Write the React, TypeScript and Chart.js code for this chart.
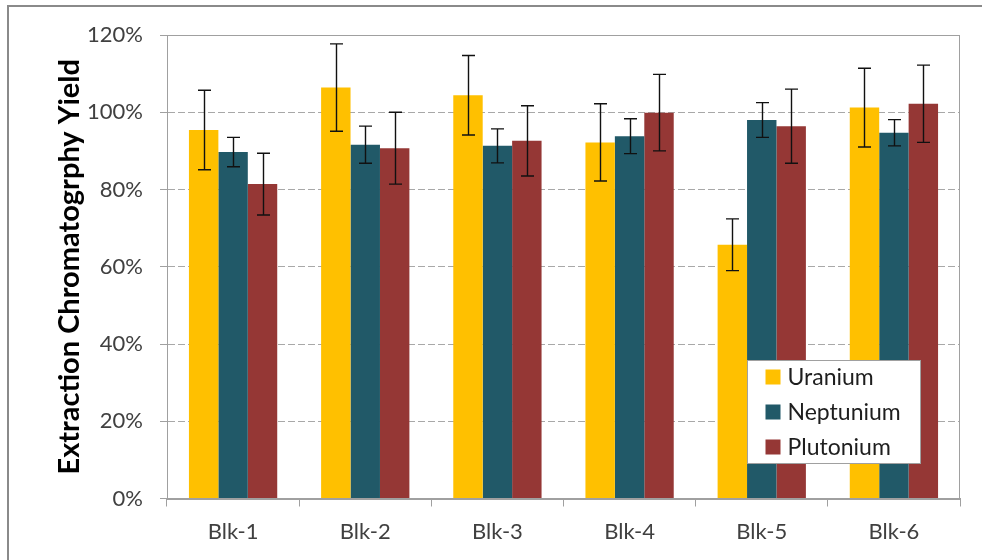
import React, { useEffect, useRef } from "react";
import { Chart, registerables } from "chart.js";

Chart.register(...registerables);

// ---- data ----
const categories = ["Blk-1", "Blk-2", "Blk-3", "Blk-4", "Blk-5", "Blk-6"];
const seriesNames = ["Uranium", "Neptunium", "Plutonium"];
const uranium = [95.4, 106.4, 104.4, 92.2, 65.7, 101.2];
const uraniumErr = [10.3, 11.3, 10.3, 10.0, 6.7, 10.2];
const neptunium = [89.7, 91.6, 91.3, 93.8, 98.0, 94.7];
const neptuniumErr = [3.8, 4.8, 4.4, 4.5, 4.5, 3.4];
const plutonium = [81.4, 90.7, 92.6, 99.9, 96.4, 102.2];
const plutoniumErr = [8.0, 9.3, 9.1, 9.9, 9.6, 10.0];
const yTicks = [0, 20, 40, 60, 80, 100, 120];
const yTitle = "Extraction Chromatogrphy Yield";

const colors = ["#FFC000", "#215968", "#953735"];
const FONT = "Lato, 'Open Sans', sans-serif";

const framePlugin = {
  id: "outerFrame",
  beforeDraw(chart: any) {
    const { ctx, width, height } = chart;
    ctx.save();
    ctx.fillStyle = "#ffffff";
    ctx.fillRect(0, 0, width, height);
    ctx.strokeStyle = "#8a8a8a";
    ctx.lineWidth = 2;
    ctx.beginPath();
    ctx.moveTo(8, height + 5);
    ctx.lineTo(8, 6);
    ctx.lineTo(width + 5, 6);
    ctx.stroke();
    ctx.restore();
  },
};

const plotBorderPlugin = {
  id: "plotBorder",
  beforeDatasetsDraw(chart: any) {
    const { ctx, chartArea } = chart;
    ctx.save();
    ctx.strokeStyle = "#A0A0A0";
    ctx.lineWidth = 1;
    ctx.setLineDash([]);
    ctx.strokeRect(
      Math.round(chartArea.left) + 0.5,
      Math.round(chartArea.top) + 0.5,
      Math.round(chartArea.right - chartArea.left) - 1,
      Math.round(chartArea.bottom - chartArea.top)
    );
    ctx.restore();
  },
};

const errorBarPlugin = {
  id: "errorBars",
  afterDatasetsDraw(chart: any) {
    const { ctx } = chart;
    const yScale = chart.scales.y;
    ctx.save();
    ctx.strokeStyle = "#111111";
    ctx.lineWidth = 1.4;
    chart.data.datasets.forEach((ds: any, i: number) => {
      const meta = chart.getDatasetMeta(i);
      meta.data.forEach((el: any, j: number) => {
        const v = ds.data[j];
        const e = ds.errors[j];
        const x = Math.round(el.x) + 0.5;
        const yT = yScale.getPixelForValue(v + e);
        const yB = yScale.getPixelForValue(v - e);
        const cap = 6.5;
        ctx.beginPath();
        ctx.moveTo(x, yT);
        ctx.lineTo(x, yB);
        ctx.moveTo(x - cap, yT);
        ctx.lineTo(x + cap, yT);
        ctx.moveTo(x - cap, yB);
        ctx.lineTo(x + cap, yB);
        ctx.stroke();
      });
    });
    ctx.restore();
  },
};

const legendBoxPlugin = {
  id: "legendBox",
  afterDraw(chart: any) {
    const { ctx, chartArea } = chart;
    const w = 173;
    const h = 103;
    const right = chartArea.right - 40;
    const bottom = chartArea.bottom - 35.5;
    const left = Math.round(right - w) + 0.5;
    const top = Math.round(bottom - h) + 0.5;
    ctx.save();
    ctx.fillStyle = "#ffffff";
    ctx.fillRect(left, top, w, h);
    ctx.strokeStyle = "#A0A0A0";
    ctx.lineWidth = 1;
    ctx.strokeRect(left, top, w, h);
    ctx.font = `23px ${FONT}`;
    ctx.textBaseline = "middle";
    ctx.textAlign = "left";
    chart.data.datasets.forEach((ds: any, i: number) => {
      const cy = top + 16.5 + i * 35;
      ctx.fillStyle = ds.backgroundColor;
      ctx.fillRect(left + 18, cy - 7.5, 15, 15);
      ctx.fillStyle = "#1e1e1e";
      ctx.fillText(ds.label, left + 40, cy + 1);
    });
    ctx.restore();
  },
};

export default function App() {
  const canvasRef = useRef<HTMLCanvasElement | null>(null);

  useEffect(() => {
    if (!canvasRef.current) return;
    const values = [uranium, neptunium, plutonium];
    const errors = [uraniumErr, neptuniumErr, plutoniumErr];
    const chart = new Chart(canvasRef.current, {
      type: "bar",
      data: {
        labels: categories,
        datasets: seriesNames.map((name, i) => ({
          label: name,
          data: values[i],
          errors: errors[i],
          backgroundColor: colors[i],
          borderWidth: 0,
          categoryPercentage: 0.668,
          barPercentage: 1.0,
        })) as any,
      },
      options: {
        responsive: false,
        animation: false,
        layout: { padding: { left: 0, top: 35, right: 22, bottom: 0 } },
        plugins: {
          legend: { display: false },
          tooltip: { enabled: false },
        },
        scales: {
          x: {
            grid: {
              display: true,
              offset: true,
              drawOnChartArea: false,
              drawTicks: true,
              tickLength: 8,
              color: "#A0A0A0",
              tickColor: "#A0A0A0",
            },
            border: { display: true, color: "#A0A0A0", width: 1 },
            ticks: {
              font: { family: FONT, size: 22 },
              color: "#404040",
              padding: 12,
            },
            afterFit: (s: any) => {
              s.height = 61.5;
            },
          },
          y: {
            min: 0,
            max: 120,
            afterBuildTicks: (s: any) => {
              s.ticks = yTicks.map((v) => ({ value: v }));
            },
            grid: {
              color: "#A8A8A8",
              drawTicks: true,
              tickLength: 7,
              tickColor: "#A0A0A0",
              tickBorderDash: [],
            },
            border: { display: true, color: "#A0A0A0", width: 1, dash: [7, 3] },
            ticks: {
              font: { family: FONT, size: 22 },
              color: "#404040",
              padding: 17,
              callback: (v: any) => `${v}%`,
            },
            title: {
              display: true,
              text: yTitle,
              color: "#000000",
              font: { family: FONT, size: 29, weight: "bold" },
              padding: { top: 52, bottom: 0 },
            },
            afterFit: (s: any) => {
              s.width = 167;
            },
          },
        },
      },
      plugins: [framePlugin, plotBorderPlugin, errorBarPlugin, legendBoxPlugin],
    } as any);
    return () => chart.destroy();
  }, []);

  return (
    <div style={{ position: "absolute", left: 0, top: 0, width: 982, height: 560 }}>
      <canvas ref={canvasRef} width={982} height={560} style={{ display: "block" }} />
    </div>
  );
}
